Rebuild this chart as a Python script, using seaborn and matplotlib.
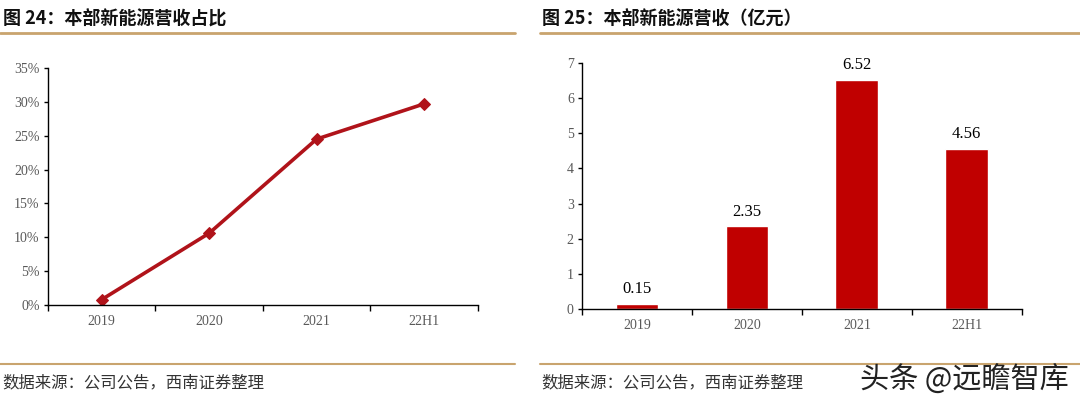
import matplotlib
matplotlib.use("Agg")
import matplotlib.pyplot as plt
import seaborn as sns
import pandas as pd
from matplotlib.ticker import FuncFormatter, FixedLocator

categories = ["2019", "2020", "2021", "22H1"]
share_pct = [0.8, 10.6, 24.5, 29.7]
revenue = [0.15, 2.35, 6.52, 4.56]
title_left = "图 24：本部新能源营收占比"
title_right = "图 25：本部新能源营收（亿元）"
source_text = "数据来源：公司公告，西南证券整理"
watermark = "头条 @远瞻智库"

sns.set_theme(style="white")
plt.rcParams['font.family'] = ['Noto Sans CJK SC', 'DejaVu Sans']

RED_LINE = "#B0131A"
RED_BAR = "#C00000"
GOLD = "#C9A46E"
TICK_COL = "#595959"
SERIF = ['Liberation Serif', 'DejaVu Serif']

fig = plt.figure(figsize=(10.8, 4.01), dpi=100)

ax1 = fig.add_axes([0.0444, 0.2394, 0.398, 0.591])
ax2 = fig.add_axes([0.539, 0.2287, 0.407, 0.615])

df_line = pd.DataFrame({"cat": categories, "val": share_pct})
df_bar = pd.DataFrame({"cat": categories, "val": revenue})

sns.lineplot(data=df_line, x="cat", y="val", ax=ax1, color=RED_LINE, linewidth=2.6,
             marker="D", markersize=6.5, markeredgecolor=RED_LINE, sort=False)
sns.barplot(data=df_bar, x="cat", y="val", ax=ax2, color=RED_BAR, width=0.39,
            saturation=1)

def style_axis(ax, ymax, ystep, fmt):
    ax.set_xlim(-0.5, 3.5)
    ax.set_ylim(0, ymax)
    ax.set_xlabel("")
    ax.set_ylabel("")
    for s in ["top", "right"]:
        ax.spines[s].set_visible(False)
    for s in ["left", "bottom"]:
        ax.spines[s].set_color("#000000")
        ax.spines[s].set_linewidth(1.0)
    ax.xaxis.set_major_locator(FixedLocator([-0.5, 0.5, 1.5, 2.5, 3.5]))
    ax.xaxis.set_major_formatter(FuncFormatter(lambda v, p: ""))
    ax.xaxis.set_minor_locator(FixedLocator([0, 1, 2, 3]))
    ax.xaxis.set_minor_formatter(FuncFormatter(lambda v, p: categories[int(round(v))]))
    ax.tick_params(axis="x", which="major", direction="out", length=4, width=1, color="#000000", bottom=True)
    ax.tick_params(axis="x", which="minor", length=0, pad=7, labelsize=10, labelcolor=TICK_COL, bottom=True)
    ticks = [i * ystep for i in range(int(round(ymax / ystep)) + 1)]
    ax.set_yticks(ticks)
    ax.yaxis.set_major_formatter(FuncFormatter(fmt))
    ax.tick_params(axis="y", direction="out", length=3, width=1, color="#000000", left=True,
                   labelsize=10, labelcolor=TICK_COL, pad=3)
    for lab in ax.get_xticklabels(minor=True) + ax.get_yticklabels():
        lab.set_family(SERIF)
    ax.grid(False)
    ax.set_facecolor("white")

style_axis(ax1, 35, 5, lambda v, p: f"{v:.0f}%")
style_axis(ax2, 7, 1, lambda v, p: f"{v:.0f}")

for cont in ax2.containers:
    ax2.bar_label(cont, labels=[f"{v:.2f}" for v in revenue], padding=5,
                  fontsize=12, color="#000000", family=SERIF)

# titles
fig.text(0.003, 0.955, title_left, fontsize=13, fontweight="bold", color="#111111",
         ha="left", va="center")
fig.text(0.502, 0.955, title_right, fontsize=13, fontweight="bold", color="#111111",
         ha="left", va="center")

# rules
for x0, x1 in [(0.0, 0.477), (0.5, 1.0)]:
    fig.add_artist(plt.Line2D([x0, x1], [1 - 33 / 401] * 2, color=GOLD, linewidth=2,
                              transform=fig.transFigure))
    fig.add_artist(plt.Line2D([x0, x1], [1 - 364 / 401] * 2, color=GOLD, linewidth=1.5,
                              transform=fig.transFigure))

fig.text(0.002, 1 - 383 / 401, source_text, fontsize=11.8, color="#333333",
         ha="left", va="center", style="italic")
fig.text(0.501, 1 - 383 / 401, source_text, fontsize=11.8, color="#333333",
         ha="left", va="center", style="italic")
fig.text(0.796, 1 - 381 / 401, watermark, fontsize=21, color="#222222",
         ha="left", va="center")

fig.savefig("out.png", dpi=100, facecolor="white")
